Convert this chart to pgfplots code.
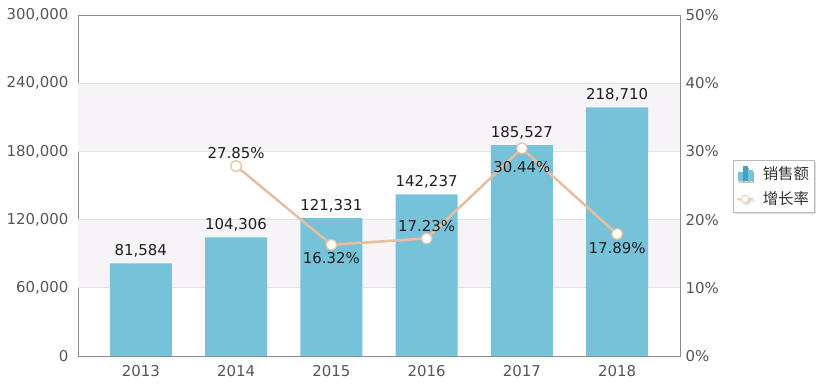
\documentclass[border=0pt]{standalone}
\usepackage{fontspec}
\setmainfont{DejaVu Sans}
\newfontfamily\cjk{Noto Sans CJK SC}
\usepackage{pgfplots}
\usepackage{pgfplotstable}
\pgfplotsset{compat=1.18}
\usetikzlibrary{shadows}

\definecolor{barc}{RGB}{118,195,217}
\definecolor{barcd}{RGB}{70,160,190}
\definecolor{linec}{RGB}{231,190,160}
\definecolor{tickc}{RGB}{85,85,85}
\definecolor{axc}{RGB}{140,140,140}
\definecolor{bandc}{RGB}{246,244,247}
\definecolor{gridc}{RGB}{226,226,228}
\definecolor{labc}{RGB}{30,30,30}

\pgfplotstableread{
x y lab
0 81584 {81,584}
1 104306 {104,306}
2 121331 {121,331}
3 142237 {142,237}
4 185527 {185,527}
5 218710 {218,710}
}\sales

\pgfplotstableread{
x p lab
1 27.85 27.85
2 16.32 16.32
3 17.23 17.23
4 30.44 30.44
5 17.89 17.89
}\growth

\pgfplotstableread{
x p lab
1 27.85 27.85
3 17.23 17.23
}\growthabove

\pgfplotstableread{
x p lab
2 16.32 16.32
5 17.89 17.89
}\growthbelow

\pgfplotstableread{
x p lab
4 30.44 30.44
}\growthbelowb

\begin{document}
\begin{tikzpicture}
\path[use as bounding box] (0,0) rectangle (826bp,385bp);
\begin{axis}[
  at={(78bp,29bp)}, anchor=south west,
  scale only axis, width=602bp, height=341bp,
  xmin=-0.66, xmax=5.66, ymin=0, ymax=300000,
  xtick={0,1,2,3,4,5},
  xticklabels={2013,2014,2015,2016,2017,2018},
  ytick={0,60000,120000,180000,240000,300000},
  yticklabels={0,{60,000},{120,000},{180,000},{240,000},{300,000}},
  scaled y ticks=false,
  /pgf/number format/assume math mode=true,
  axis line style={axc, line width=0.8bp},
  major tick length=0pt,
  ticklabel style={font=\fontsize{15}{17}\selectfont, text=tickc},
  yticklabel style={xshift=-6bp},
  xticklabel style={yshift=-6bp},
  clip=false,
]
\fill[bandc] (axis cs:-0.66,180000) rectangle (axis cs:5.66,240000);
\fill[bandc] (axis cs:-0.66,60000) rectangle (axis cs:5.66,120000);
\draw[gridc, line width=0.6bp] (axis cs:-0.66,60000) -- (axis cs:5.66,60000);
\draw[gridc, line width=0.6bp] (axis cs:-0.66,120000) -- (axis cs:5.66,120000);
\draw[gridc, line width=0.6bp] (axis cs:-0.66,180000) -- (axis cs:5.66,180000);
\draw[gridc, line width=0.6bp] (axis cs:-0.66,240000) -- (axis cs:5.66,240000);
\addplot[ybar, bar width=62bp, fill=barc, draw=none,
  nodes near coords, point meta=explicit symbolic,
  every node near coord/.append style={font=\fontsize{15}{17}\selectfont, text=labc, anchor=south, inner sep=1bp, yshift=5bp}]
  table[x=x, y=y, meta=lab]{\sales};
\end{axis}

\begin{axis}[
  at={(78bp,29bp)}, anchor=south west,
  scale only axis, width=602bp, height=341bp,
  xmin=-0.66, xmax=5.66, ymin=0, ymax=50,
  axis y line*=right, axis x line=none,
  ytick={0,10,20,30,40,50},
  yticklabels={0\%,10\%,20\%,30\%,40\%,50\%},
  /pgf/number format/assume math mode=true,
  axis line style={axc, line width=0.8bp},
  major tick length=0pt,
  ticklabel style={font=\fontsize{15}{17}\selectfont, text=tickc},
  yticklabel style={xshift=2bp},
  clip=false,
  legend cell align=left,
  legend style={at={(1.088,0.575)}, anchor=north west,
    draw=gray!55, fill=white, line width=0.6bp,
    drop shadow={opacity=0.25, shadow xshift=1.5bp, shadow yshift=-1.5bp},
    font=\cjk\fontsize{15.5}{18}\selectfont, text=black!80,
    inner xsep=3bp, inner ysep=4bp, row sep=7bp, column sep=7bp},
]
\addlegendimage{legend image code/.code={
  \fill[barc] (2bp,-7bp) rectangle (6bp,1bp);
  \fill[barcd] (7bp,-7bp) rectangle (11bp,7bp);
  \fill[barc] (12bp,-7bp) rectangle (16bp,3bp);
}}
\addlegendentry{销售额}
\addplot[linec, line width=2.5bp, mark=*, mark size=5.5bp,
  mark options={fill=white, draw=linec, line width=1.2bp},
  legend image code/.code={
    \draw[linec!70, line width=1.5bp] (1bp,0) -- (17bp,0);
    \draw[linec!70, fill=white, line width=1bp] (9bp,0) circle (3.8bp);
  }]
  table[x=x, y=p]{\growth};
\addlegendentry{增长率}
\addplot[draw=none, mark=none, forget plot,
  nodes near coords={\pgfplotspointmeta\%}, point meta=explicit symbolic,
  every node near coord/.append style={font=\fontsize{15}{17}\selectfont, text=labc, anchor=south, inner sep=1bp, yshift=6bp}]
  table[x=x, y=p, meta=lab]{\growthabove};
\addplot[draw=none, mark=none, forget plot,
  nodes near coords={\pgfplotspointmeta\%}, point meta=explicit symbolic,
  every node near coord/.append style={font=\fontsize{15}{17}\selectfont, text=labc, anchor=north, inner sep=1bp, yshift=-7bp}]
  table[x=x, y=p, meta=lab]{\growthbelow};
\addplot[draw=none, mark=none, forget plot,
  nodes near coords={\pgfplotspointmeta\%}, point meta=explicit symbolic,
  every node near coord/.append style={font=\fontsize{15}{17}\selectfont, text=labc, anchor=north, inner sep=1bp, yshift=-12bp}]
  table[x=x, y=p, meta=lab]{\growthbelowb};
\end{axis}
\end{tikzpicture}
\end{document}
